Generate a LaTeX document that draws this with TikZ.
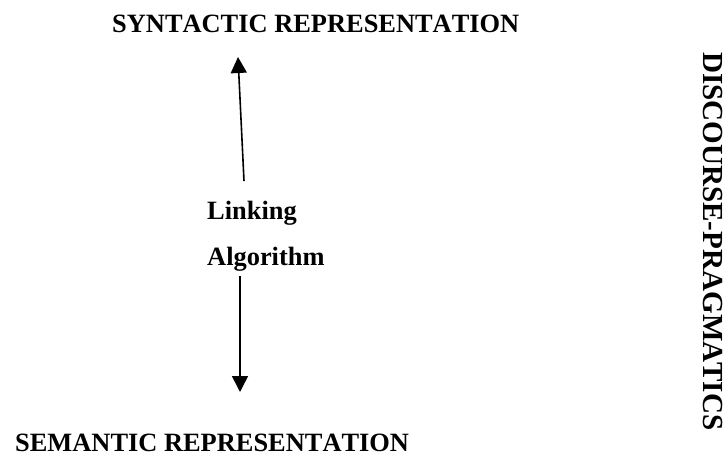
\documentclass[tikz,border=0pt]{standalone}
\usepackage{fontspec}
\setmainfont{Liberation Serif}[Kerning=Off]
\usetikzlibrary{arrows.meta}
\begin{document}
\begin{tikzpicture}[x=1bp,y=-1bp,
  lbl/.style={inner sep=0pt,anchor=base west,font=\bfseries\fontsize{26.5}{30}\selectfont},
  vlbl/.style={inner sep=0pt,anchor=base west,rotate=-90,font=\bfseries\fontsize{29.2}{32}\selectfont},
  arr/.style={line width=1.6bp,-{Triangle[width=16bp,length=16bp]}}]
\useasboundingbox (0,0) rectangle (728,456);
\node[lbl] (syn) at (112,33) {SYNTACTIC REPRESENTATION};
\node[lbl] (sem) at (15,451) {SEMANTIC REPRESENTATION};
\node[lbl] (link) at (207,220) {Linking};
\node[lbl] (alg) at (207,266) {Algorithm};
\node[vlbl] (dp) at (703,52) {DISCOURSE-PRAGMATICS};
\coordinate (upstart) at (244,181);
\coordinate (uptip) at (238,57);
\coordinate (dnstart) at (240,276);
\coordinate (dntip) at (240,392);
\draw[arr] (upstart) -- (uptip);
\draw[arr] (dnstart) -- (dntip);
\end{tikzpicture}
\end{document}
